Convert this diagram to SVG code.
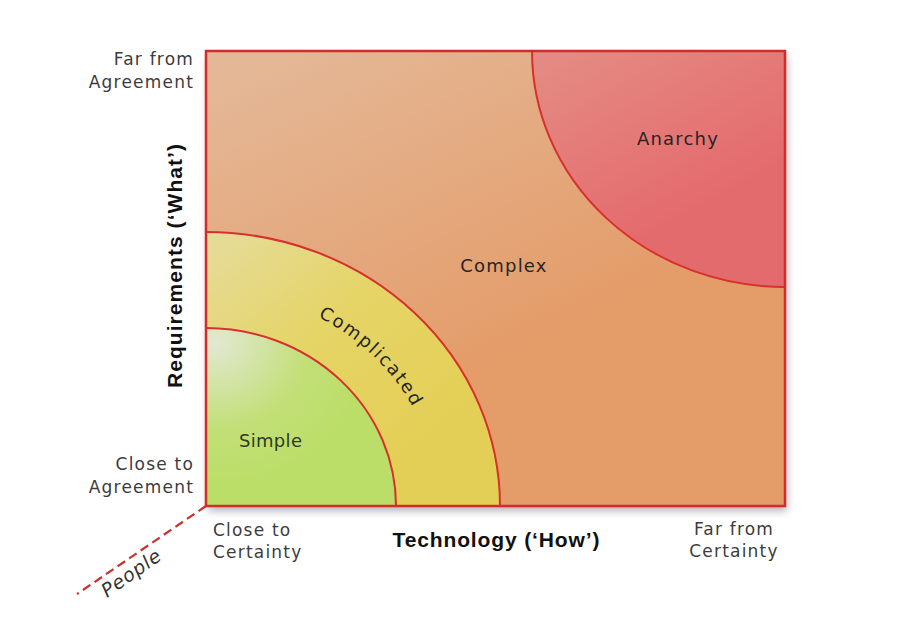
<svg xmlns="http://www.w3.org/2000/svg" width="900" height="623" viewBox="0 0 900 623">
<defs>
<linearGradient id="gBg" x1="0.15" y1="0" x2="0.55" y2="0.65">
<stop offset="0" stop-color="#e4b796"/>
<stop offset="1" stop-color="#e49c69"/>
</linearGradient>
<linearGradient id="gAn" x1="0.2" y1="0" x2="0.6" y2="0.7">
<stop offset="0" stop-color="#e48983"/>
<stop offset="1" stop-color="#e46b6d"/>
</linearGradient>
<linearGradient id="gYe" x1="0" y1="0" x2="0.7" y2="0.8">
<stop offset="0" stop-color="#e5dc9c"/>
<stop offset="0.5" stop-color="#e5d466"/>
<stop offset="1" stop-color="#e4cf56"/>
</linearGradient>
<radialGradient id="gGr" cx="0.05" cy="0.08" r="0.8">
<stop offset="0" stop-color="#e2e8d2"/>
<stop offset="0.6" stop-color="#c3df78"/>
<stop offset="1" stop-color="#bbde68"/>
</radialGradient>
<filter id="sh" x="-5%" y="-5%" width="112%" height="115%">
<feGaussianBlur in="SourceAlpha" stdDeviation="4"/>
<feOffset dx="2" dy="5"/>
<feComponentTransfer><feFuncA type="linear" slope="0.3"/></feComponentTransfer>
<feMerge><feMergeNode/><feMergeNode in="SourceGraphic"/></feMerge>
</filter>
<path id="arcC" d="M206,290 A233,217 0 0 1 439,506"/>
</defs>
<style>
.lbl{font-family:"DejaVu Sans","Liberation Sans",sans-serif;font-size:17px;fill:#3c3c3c;letter-spacing:1.2px}
.reg{font-family:"DejaVu Sans","Liberation Sans",sans-serif;font-size:18px;fill:#262626;letter-spacing:1.2px}
.axis{font-family:"Liberation Sans",Arial,sans-serif;font-size:21px;font-weight:bold;fill:#111}
.edge{fill:none;stroke:#d6312c;stroke-width:2}
</style>
<rect width="900" height="623" fill="#ffffff"/>
<g id="matrix" filter="url(#sh)">
<rect x="206" y="51" width="579" height="455" fill="url(#gBg)"/>
</g>
<g id="anarchy">
<path d="M532,51 A253,236 0 0 0 785,287 L785,51 Z" fill="url(#gAn)"/>
<path class="edge" d="M532,51 A253,236 0 0 0 785,287"/>
<text class="reg" x="678" y="145" text-anchor="middle">Anarchy</text>
</g>
<g id="complex">
<text class="reg" x="504" y="272" text-anchor="middle">Complex</text>
</g>
<g id="complicated">
<path d="M206,506 L206,232 A294,274 0 0 1 500,506 Z" fill="url(#gYe)"/>
<path class="edge" d="M206,232 A294,274 0 0 1 500,506"/>
<text class="reg" style="letter-spacing:1.9px"><textPath href="#arcC" startOffset="52%" text-anchor="middle">Complicated</textPath></text>
</g>
<g id="simple">
<path d="M206,506 L206,328 A190,178 0 0 1 396,506 Z" fill="url(#gGr)"/>
<path class="edge" d="M206,328 A190,178 0 0 1 396,506"/>
<text class="reg" x="239" y="447" style="fill:#2f3a20;letter-spacing:0.3px">Simple</text>
</g>
<g id="frame">
<rect x="206" y="51" width="579" height="455" fill="none" stroke="#d42b2b" stroke-width="2.5"/>
</g>
<g id="connectors">
<line x1="206" y1="506" x2="77" y2="594" stroke="#c8302e" stroke-width="2.2" stroke-dasharray="9,5"/>
</g>
<g id="labels">
<text class="lbl" x="194" y="65" text-anchor="end">Far from</text>
<text class="lbl" x="194" y="88" text-anchor="end">Agreement</text>
<text class="lbl" x="194" y="470" text-anchor="end">Close to</text>
<text class="lbl" x="194" y="493" text-anchor="end">Agreement</text>
<text class="lbl" x="213" y="536">Close to</text>
<text class="lbl" x="213" y="558">Certainty</text>
<text class="lbl" x="734" y="535" text-anchor="middle">Far from</text>
<text class="lbl" x="734" y="557" text-anchor="middle">Certainty</text>
<text class="axis" x="496" y="547" text-anchor="middle" textLength="207" lengthAdjust="spacing">Technology (‘How’)</text>
<text class="axis" transform="translate(182,266) rotate(-90)" x="0" y="0" text-anchor="middle" textLength="244" lengthAdjust="spacing">Requirements (‘What’)</text>
<text class="lbl" transform="translate(107,598) rotate(-35)" style="font-style:italic;font-size:19px;fill:#333;letter-spacing:0.8px">People</text>
</g>
</svg>
